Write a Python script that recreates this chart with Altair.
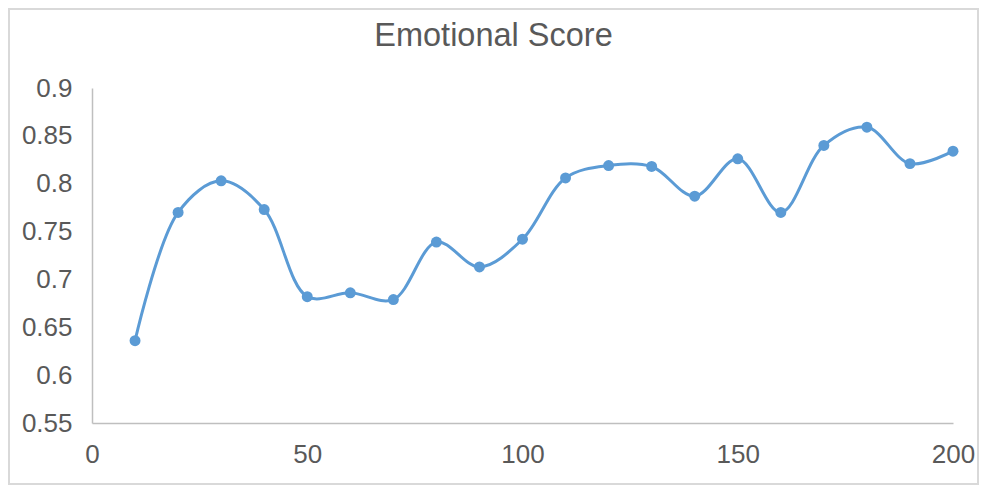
import altair as alt
import pandas as pd

x_vals = [10, 20, 30, 40, 50, 60, 70, 80, 90, 100,
          110, 120, 130, 140, 150, 160, 170, 180, 190, 200]
scores = [0.636, 0.770, 0.803, 0.773, 0.682, 0.686, 0.679, 0.739, 0.713, 0.742,
          0.806, 0.819, 0.818, 0.787, 0.826, 0.770, 0.840, 0.859, 0.821, 0.834]
x_ticks = [0, 50, 100, 150, 200]
y_ticks = [0.55, 0.6, 0.65, 0.7, 0.75, 0.8, 0.85, 0.9]
title_text = "Emotional Score"

df = pd.DataFrame({"x": x_vals, "score": scores})

FONT = "Liberation Sans"
BLUE = "#5b9bd5"
GREY_TXT = "#595959"
GREY_AX = "#bfbfbf"

W, H = 861, 335

xenc = alt.X("x:Q", scale=alt.Scale(domain=[0, 200], nice=False, zero=False),
             axis=alt.Axis(values=x_ticks, title=None, grid=False, ticks=False,
                           labelPadding=18, domainColor=GREY_AX, domainWidth=1.5,
                           labelFontSize=26, labelColor=GREY_TXT, labelFont=FONT,
                           labelFlush=False))
yenc = alt.Y("score:Q", scale=alt.Scale(domain=[0.55, 0.9], nice=False, zero=False),
             axis=alt.Axis(values=y_ticks, title=None, grid=False, ticks=False,
                           format=".2~f", labelPadding=20, domainColor=GREY_AX,
                           domainWidth=1.5, labelFontSize=26, labelColor=GREY_TXT,
                           labelFont=FONT, labelFlush=False))

base = alt.Chart(df)
line = base.mark_line(color=BLUE, strokeWidth=3, interpolate="catmull-rom").encode(x=xenc, y=yenc)
pts = base.mark_circle(color=BLUE, size=120, opacity=1).encode(x=xenc, y=yenc)

frame = alt.Chart(pd.DataFrame({"a": [0]})).mark_rect(
    fill=None, stroke="#d9d9d9", strokeWidth=2
).encode(x=alt.value(-83), x2=alt.value(886), y=alt.value(-79), y2=alt.value(396))

chart = alt.layer(frame, line, pts).properties(
    width=W, height=H,
    background="white",
    title=alt.TitleParams(title_text, fontSize=32.5, font=FONT, color=GREY_TXT,
                          fontWeight="normal", anchor="middle", frame="group",
                          baseline="alphabetic", dx=-29, offset=-70),
    autosize=alt.AutoSizeParams(type="none"),
    padding={"left": 84, "top": 80, "right": 26, "bottom": 62},
).configure_view(strokeWidth=0, stroke="transparent")

chart.save("out.html", embed_options={"renderer": "svg", "actions": False})
